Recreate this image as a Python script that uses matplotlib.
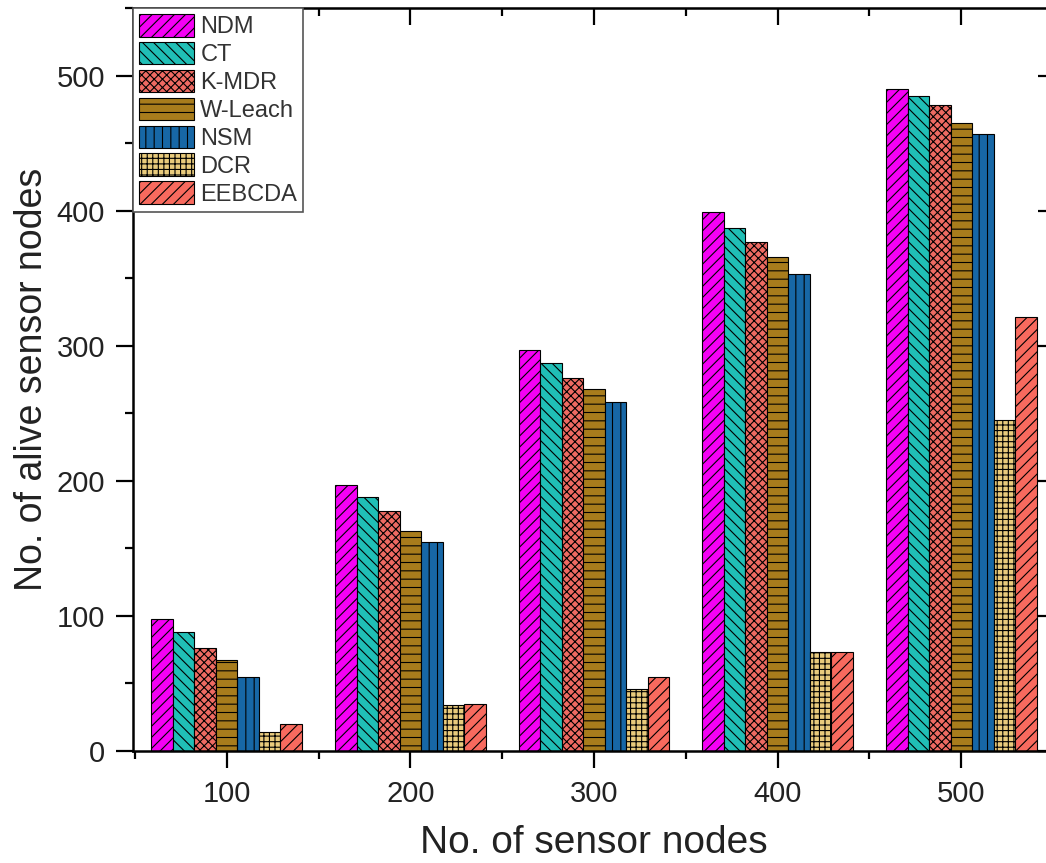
import numpy as np
import matplotlib
matplotlib.use('Agg')
import matplotlib.pyplot as plt
from matplotlib.ticker import MultipleLocator

plt.rcParams['font.family'] = ['Liberation Sans', 'DejaVu Sans']
plt.rcParams['hatch.linewidth'] = 0.8

# data
nodes = [100, 200, 300, 400, 500]
ndm = [98, 197, 297, 399, 490]
ct = [88, 188, 287, 387, 485]
kmdr = [76, 178, 276, 377, 478]
wleach = [67, 163, 268, 366, 465]
nsm = [55, 155, 258, 353, 457]
dcr = [14, 34, 46, 73, 245]
eebcda = [20, 35, 55, 73, 321]

series = [
    ('NDM', ndm, '#f400f4', '///'),
    ('CT', ct, '#20bfb6', '\\\\\\'),
    ('K-MDR', kmdr, '#ee6a62', 'xxxx'),
    ('W-Leach', wleach, '#a87c1c', '--'),
    ('NSM', nsm, '#1767a6', '||'),
    ('DCR', dcr, '#e9cb7c', '+++'),
    ('EEBCDA', eebcda, '#f86a5e', '///'),
]

W, H = 1046, 863
fig = plt.figure(figsize=(W / 100, H / 100), dpi=100)
x0, x1 = 133, 1055
y0, y1 = 751, 8
ax = fig.add_axes([x0 / W, (H - y0) / H, (x1 - x0) / W, (y0 - y1) / H])

x = np.array(nodes, dtype=float)
bw = 11.7
for i, (name, vals, col, hatch) in enumerate(series):
    ax.bar(x + (i - 3) * bw, vals, width=bw, color=col, edgecolor='black',
           linewidth=0.8, hatch=hatch, label=name)

ax.set_xlim(49, 551)
ax.set_ylim(0, 550)
ax.set_xticks(nodes)
ax.xaxis.set_minor_locator(MultipleLocator(50))
ax.yaxis.set_major_locator(MultipleLocator(100))
ax.yaxis.set_minor_locator(MultipleLocator(50))

txt = '#222222'
ax.tick_params(which='major', direction='out', length=12, width=1.6,
               labelsize=21, labelcolor=txt, pad=9)
ax.tick_params(which='minor', direction='out', length=6, width=1.6)
ax.tick_params(axis='y', which='major', pad=8)
for s in ax.spines.values():
    s.set_linewidth(1.8)

# mirrored ticks on top and right pointing inward
top = ax.secondary_xaxis('top')
top.set_xticks(nodes)
top.xaxis.set_minor_locator(MultipleLocator(50))
top.tick_params(which='both', direction='in', labeltop=False, width=1.6)
top.tick_params(which='major', length=12)
top.tick_params(which='minor', length=6)
right = ax.secondary_yaxis('right')
right.yaxis.set_major_locator(MultipleLocator(100))
right.yaxis.set_minor_locator(MultipleLocator(50))
right.tick_params(which='both', direction='in', labelright=False, width=1.6)
right.tick_params(which='major', length=12)
right.tick_params(which='minor', length=6)

ax.set_xlabel('No. of sensor nodes', fontsize=28, color=txt, labelpad=12)
ax.set_ylabel('No. of alive sensor nodes', fontsize=27, color=txt, labelpad=5)

leg = ax.legend(loc='upper left', bbox_to_anchor=(0, 1), borderaxespad=0,
                fontsize=17, handlelength=2.35, handleheight=1.1,
                labelspacing=0.15, handletextpad=0.25, borderpad=0.25,
                fancybox=False, framealpha=1, edgecolor='#555555',
                labelcolor='#333333')
leg.get_frame().set_linewidth(1.2)

fig.savefig('out.png', dpi=100)
